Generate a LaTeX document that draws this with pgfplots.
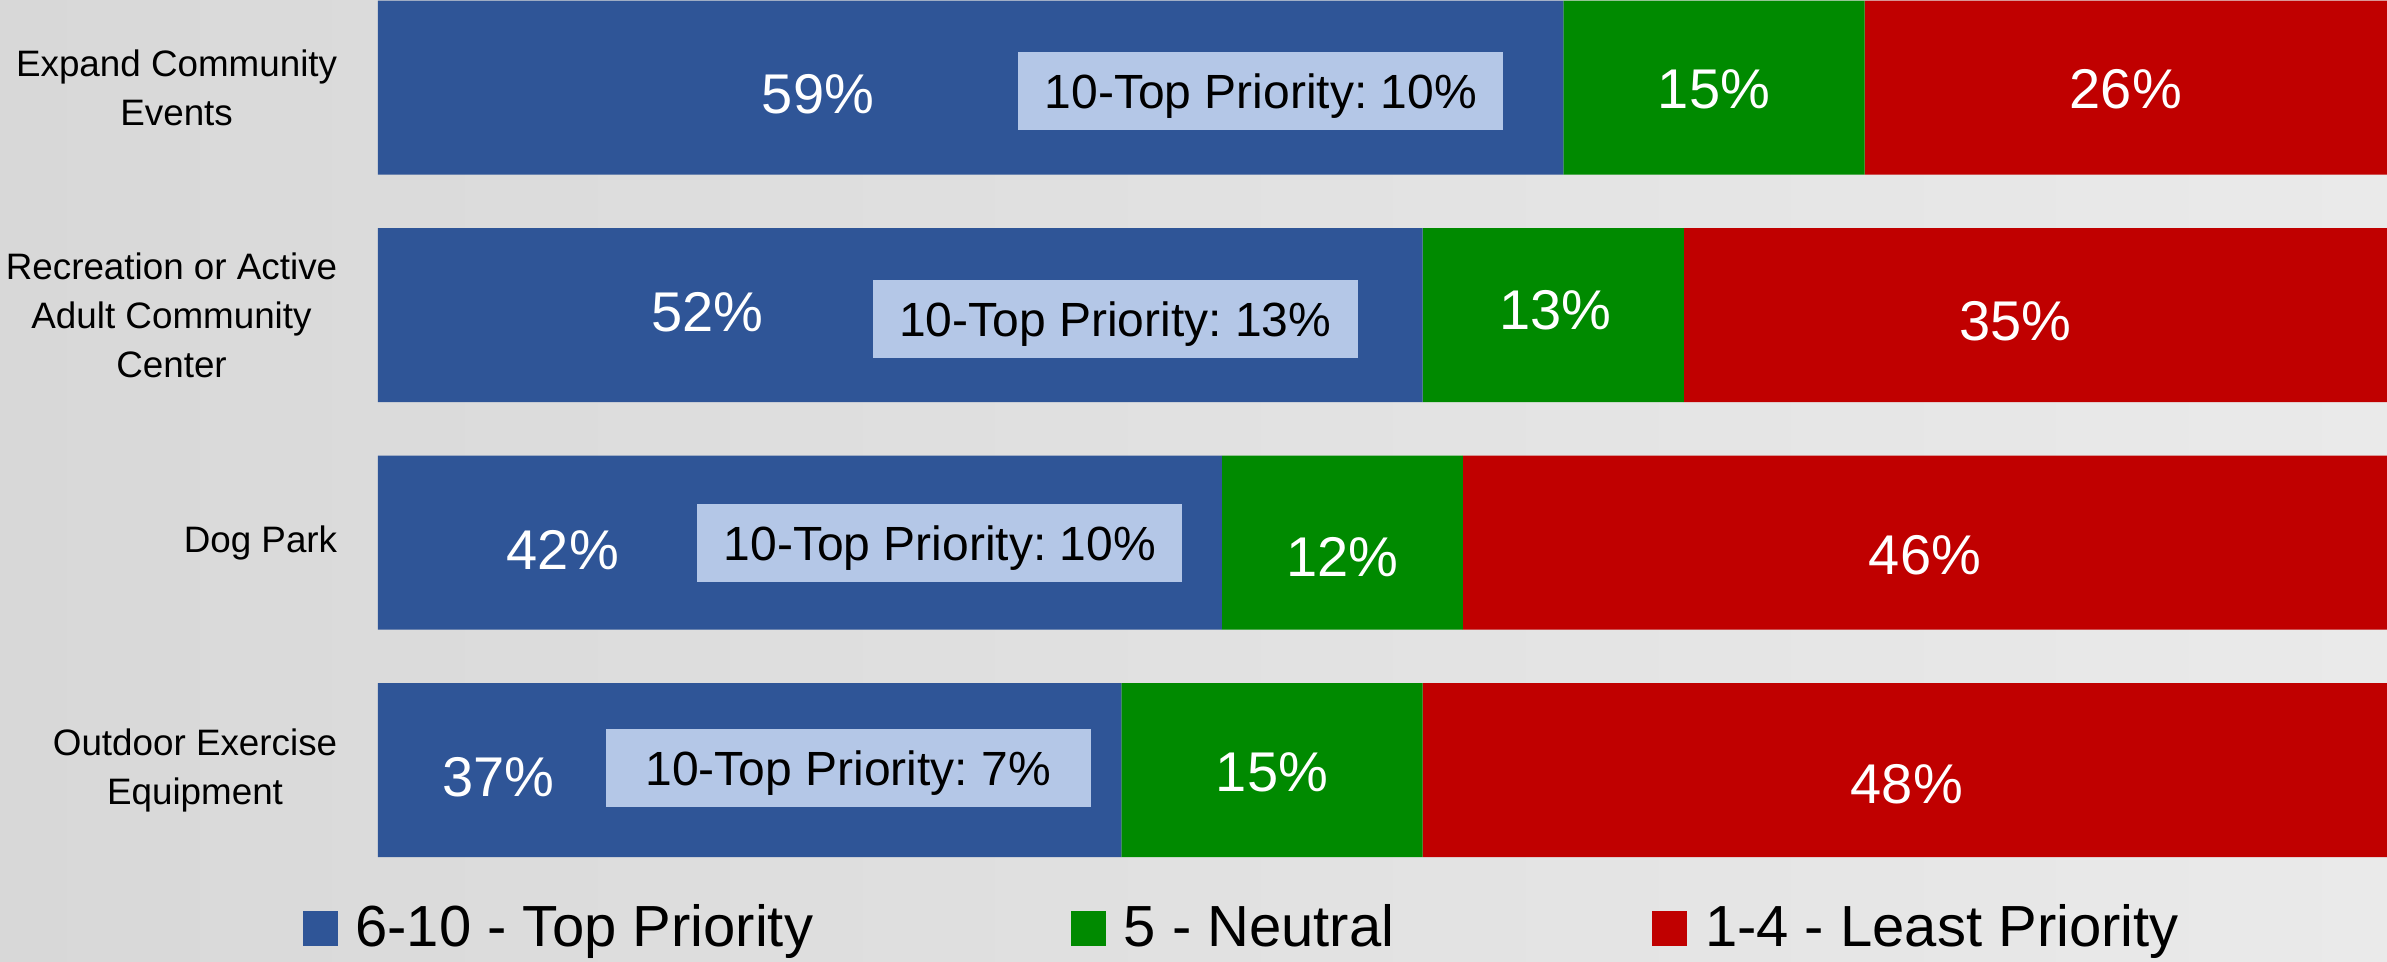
\documentclass[border=0pt]{standalone}
\usepackage{fontspec}
\setmainfont{Liberation Sans}
\usepackage{pgfplots}
\pgfplotsset{compat=1.18}
\definecolor{cblue}{HTML}{2F5597}
\definecolor{cgreen}{HTML}{008A00}
\definecolor{cred}{HTML}{C00000}
\definecolor{cbox}{HTML}{B4C7E7}
\definecolor{bgL}{HTML}{D8D8D8}
\definecolor{bgR}{HTML}{EAEAEA}
\frenchspacing
\begin{document}
\begin{tikzpicture}[
  lab/.style={text=white, font=\fontsize{14}{16}\selectfont, inner sep=0pt},
  pbox/.style={fill=cbox, minimum width=121.25pt, minimum height=19.5pt, inner sep=0pt, text depth=0pt, font=\fontsize{12}{14}\selectfont\frenchspacing}]
\shade[left color=bgL, right color=bgR] (-94.5pt,-19.5pt) rectangle (502.25pt,221pt);
\begin{axis}[name=ax, at={(0pt,0pt)}, anchor=south west, scale only axis, width=502.25pt, height=221pt,
  xbar stacked, bar width=0.7648,
  xmin=0, xmax=100, ymin=-0.3846, ymax=3.5, y dir=reverse,
  axis line style={draw=none}, xtick=\empty, ytick={0,1,2,3},
  yticklabels={{Expand Community\\Events},{Recreation or Active\\Adult Community\\Center},{Dog Park},{Outdoor Exercise\\Equipment}},
  yticklabel style={align=center, font=\fontsize{9.2}{12.2}\selectfont, inner sep=0pt, xshift=-10pt},
  major tick length=0pt,
  legend columns=3,
  legend style={at={(rel axis cs:0,0)}, anchor=west, xshift=-19pt, yshift=-11.1pt,
    draw=none, fill=none, inner sep=0pt,
    font=\fontsize{14.5}{17}\selectfont,
    nodes={inner xsep=0pt},
    /tikz/every odd column/.append style={column sep=4.4pt},
    /tikz/every even column/.append style={column sep=64.5pt}},
  after end axis/.code={
    \node[lab] at (axis cs:21.9,0.031) {59\%};
    \node[lab] at (axis cs:16.4,0.987) {52\%};
    \node[lab] at (axis cs:9.2,2.031) {42\%};
    \node[lab] at (axis cs:6.0,3.029) {37\%};
    \node[lab] at (axis cs:66.5,0.009) {15\%};
    \node[lab] at (axis cs:58.6,0.977) {13\%};
    \node[lab] at (axis cs:48.0,2.065) {12\%};
    \node[lab] at (axis cs:44.5,3.009) {15\%};
    \node[lab] at (axis cs:87.0,0.009) {26\%};
    \node[lab] at (axis cs:81.5,1.029) {35\%};
    \node[lab] at (axis cs:77.0,2.054) {46\%};
    \node[lab] at (axis cs:76.1,3.062) {48\%};
    \node[pbox] at (axis cs:43.95,0.015) {10-Top Priority: 10\%};
    \node[pbox] at (axis cs:36.7,1.018) {10-Top Priority: 13\%};
    \node[pbox] at (axis cs:27.97,2.0) {10-Top Priority: 10\%};
    \node[pbox] at (axis cs:23.4,2.99) {10-Top Priority: 7\%};
  },
]
\addplot[fill=cblue, draw=none, legend image code/.code={\fill[cblue] (0pt,-4.5pt) rectangle (8.75pt,4.25pt);}]
  coordinates {(59,0) (52,1) (42,2) (37,3)};
\addplot[fill=cgreen, draw=none, legend image code/.code={\fill[cgreen] (0pt,-4.5pt) rectangle (8.75pt,4.25pt);}]
  coordinates {(15,0) (13,1) (12,2) (15,3)};
\addplot[fill=cred, draw=none, legend image code/.code={\fill[cred] (0pt,-4.5pt) rectangle (8.75pt,4.25pt);}]
  coordinates {(26,0) (35,1) (46,2) (48,3)};
\legend{6-10 - Top Priority, 5 - Neutral, 1-4 - Least Priority}
\end{axis}
\pgfresetboundingbox
\path[use as bounding box] (-94.5pt,-19.5pt) rectangle (502.25pt,221pt);
\end{tikzpicture}
\end{document}
